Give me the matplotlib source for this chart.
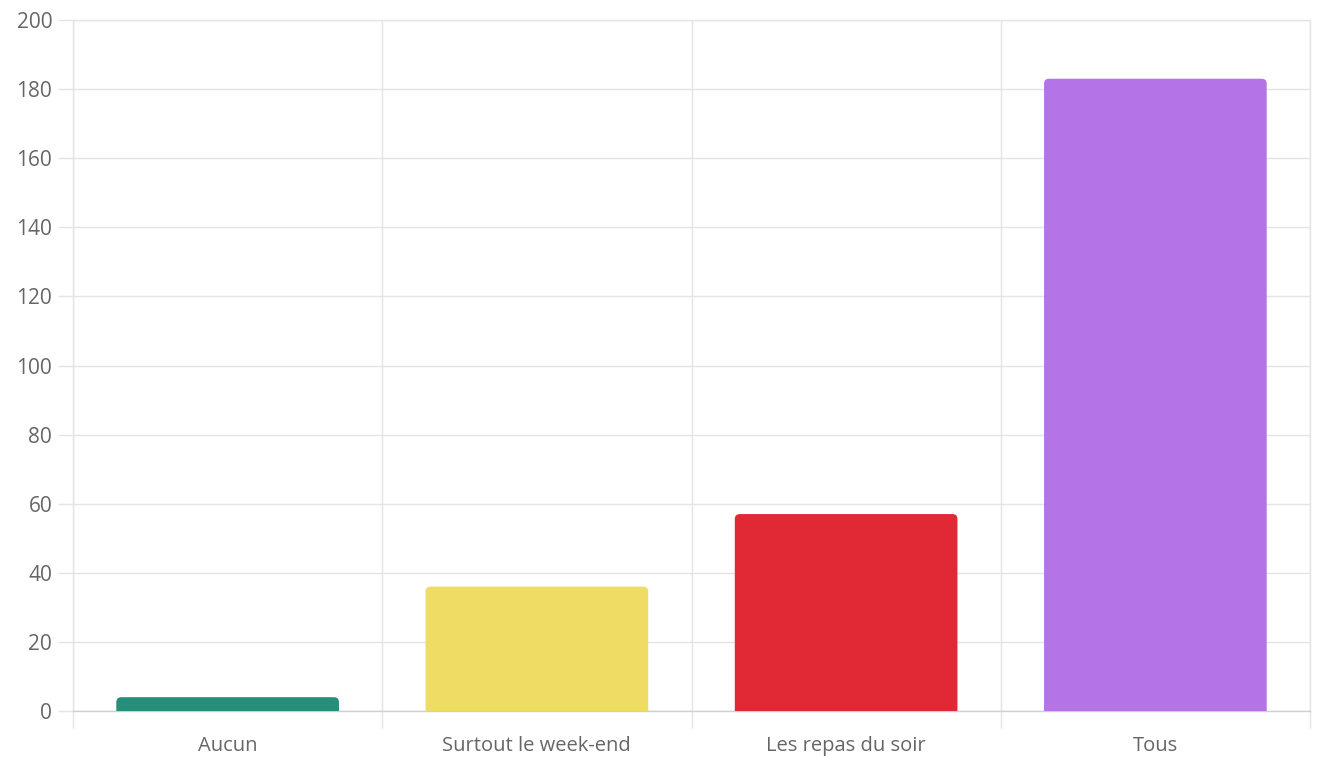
import matplotlib.pyplot as plt
from matplotlib.patches import FancyBboxPatch
from matplotlib.ticker import FixedLocator

categories = ['Aucun', 'Surtout le week-end', 'Les repas du soir', 'Tous']
values = [4, 36, 57, 183]
colors = ['#268f7a', '#efdc64', '#e12935', '#b473e6']

W, H = 1319, 757
fig = plt.figure(figsize=(W / 100, H / 100), dpi=100)
left, right, top, bottom = 73, 1310, 20, 711
ax = fig.add_axes([left / W, (H - bottom) / H, (right - left) / W, (bottom - top) / H])

grid_c = '#e4e4e4'
text_c = '#666666'

ax.set_xlim(-0.5, len(categories) - 0.5)
ax.set_ylim(0, 200)

# bars with rounded top corners (bottom hidden below the axis)
bar_w = 0.72
px_x = (right - left) / len(categories)
px_y = (bottom - top) / 200
aspect = px_x / px_y
r = 5 / px_x
for i, (v, c) in enumerate(zip(values, colors)):
    p = FancyBboxPatch((i - bar_w / 2, -10), bar_w, v + 10,
                       boxstyle=f'round,pad=0,rounding_size={r}',
                       mutation_aspect=aspect, facecolor=c, edgecolor='none',
                       zorder=3)
    ax.add_patch(p)

ax.set_yticks(range(0, 201, 20))
ax.set_xticks(range(len(categories)))
ax.set_xticklabels(categories)
ax.xaxis.set_minor_locator(FixedLocator([i - 0.5 for i in range(len(categories) + 1)]))

ax.grid(True, axis='y', color=grid_c, linewidth=1.0, zorder=0)
ax.grid(True, axis='x', which='minor', color=grid_c, linewidth=1.0, zorder=0)
ax.grid(False, axis='x', which='major')
ax.set_axisbelow(True)

ax.tick_params(axis='y', length=11, width=1.0, color=grid_c, pad=4,
               labelsize=15, labelcolor=text_c)
ax.tick_params(axis='x', which='major', length=0, pad=18,
               labelsize=14.5, labelcolor=text_c)
ax.tick_params(axis='x', which='minor', length=12, width=1.0, color=grid_c)

for s in ax.spines.values():
    s.set_color(grid_c)
    s.set_linewidth(1.0)
ax.spines['bottom'].set_color('#cfcfcf')

for lab in ax.get_xticklabels() + ax.get_yticklabels():
    lab.set_family(['Open Sans', 'DejaVu Sans'])

fig.savefig('out.png', dpi=100)
